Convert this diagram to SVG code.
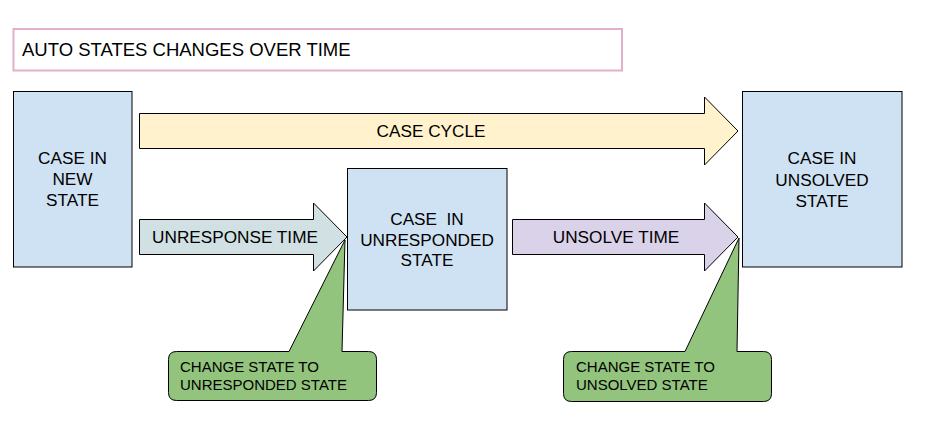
<svg xmlns="http://www.w3.org/2000/svg" width="938" height="434" viewBox="0 0 938 434">
<style>
text{font-family:"Liberation Sans",Arial,sans-serif;fill:#000}
.state{fill:#cfe2f3;stroke:#000;stroke-width:1}
.lbl{font-size:17.2px;text-anchor:middle}
.call{fill:#93c47d;stroke:#000;stroke-width:1}
.ctext{font-size:15px}
.arr{stroke:#000;stroke-width:1}
</style>
<rect x="0" y="0" width="938" height="434" fill="#fff"/>
<g id="title">
<rect x="13.5" y="29" width="608.5" height="41.5" fill="#fff" stroke="#e0b0c8" stroke-width="2"/>
<text x="22" y="55.5" font-size="18.5px">AUTO STATES CHANGES OVER TIME</text>
</g>
<g id="connectors">
<g id="case-cycle">
<path class="arr" fill="#fff2cc" d="M139.5,113.5 H704.5 V97 L738,131 L704.5,165 V148.5 H139.5 Z"/>
<text class="lbl" x="431" y="137">CASE CYCLE</text>
</g>
<g id="unresponse-time">
<path class="arr" fill="#d0e0e3" d="M139.5,219.5 H313.5 V203 L347,237 L313.5,271 V254.5 H139.5 Z"/>
<text class="lbl" x="235" y="243">UNRESPONSE TIME</text>
</g>
<g id="unsolve-time">
<path class="arr" fill="#d9d2e9" d="M512.5,219.5 H704.5 V203 L738,237 L704.5,271 V254.5 H512.5 Z"/>
<text class="lbl" x="616" y="243">UNSOLVE TIME</text>
</g>
</g>
<g id="new-state">
<rect class="state" x="13.5" y="91.5" width="118.5" height="175.5"/>
<text class="lbl" x="72.5" y="164">CASE IN</text>
<text class="lbl" x="72.5" y="185">NEW</text>
<text class="lbl" x="72.5" y="206">STATE</text>
</g>
<g id="unresponded-state">
<rect class="state" x="347.5" y="168.5" width="159.5" height="141.5"/>
<text class="lbl" x="427" y="225" xml:space="preserve">CASE  IN</text>
<text class="lbl" x="427" y="246">UNRESPONDED</text>
<text class="lbl" x="427" y="266">STATE</text>
</g>
<g id="unsolved-state">
<rect class="state" x="742.5" y="91.5" width="159.5" height="175.5"/>
<text class="lbl" x="822" y="164">CASE IN</text>
<text class="lbl" x="822" y="186">UNSOLVED</text>
<text class="lbl" x="822" y="207">STATE</text>
</g>
<g id="callout-unresponded">
<path class="call" d="M176.5,351.5 H289 L345,240 L342,351.5 H368.5 Q376.5,351.5 376.5,359.5 V392.5 Q376.5,400.5 368.5,400.5 H176.5 Q168.5,400.5 168.5,392.5 V359.5 Q168.5,351.5 176.5,351.5 Z"/>
<text class="ctext" x="180" y="372">CHANGE STATE TO</text>
<text class="ctext" x="180" y="390">UNRESPONDED STATE</text>
</g>
<g id="callout-unsolved">
<path class="call" d="M571.5,351.5 H685 L739,238 L737,351.5 H763.5 Q771.5,351.5 771.5,359.5 V393.5 Q771.5,401.5 763.5,401.5 H571.5 Q563.5,401.5 563.5,393.5 V359.5 Q563.5,351.5 571.5,351.5 Z"/>
<text class="ctext" x="576" y="372">CHANGE STATE TO</text>
<text class="ctext" x="576" y="390">UNSOLVED STATE</text>
</g>
</svg>
